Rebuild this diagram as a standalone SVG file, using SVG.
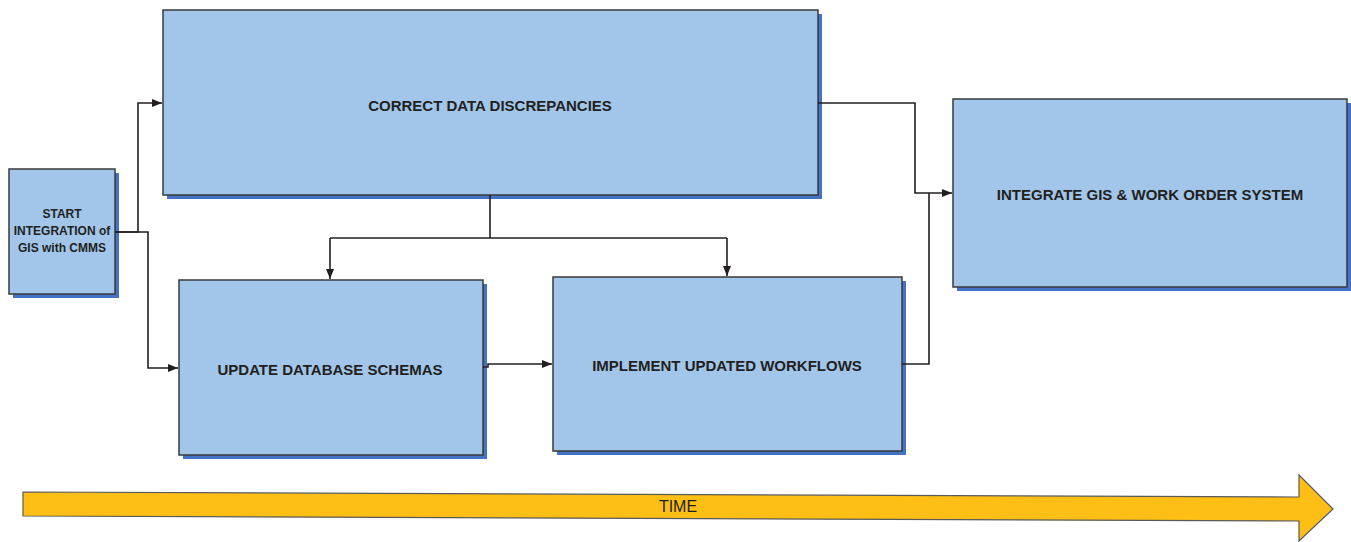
<svg xmlns="http://www.w3.org/2000/svg" width="1351" height="542" viewBox="0 0 1351 542">
<defs>
<style>
.sh{fill:#4472C4}
.bx{fill:#A1C6E9;stroke:#3A3A3A;stroke-width:1.5}
.t{font-family:"Liberation Sans",Arial,sans-serif;font-weight:bold;fill:#231F20;text-anchor:middle;dominant-baseline:central}
.c{fill:none;stroke:#231F20;stroke-width:1.6}
</style>
<marker id="ah" markerWidth="10" markerHeight="8" refX="10" refY="4" orient="auto" markerUnits="userSpaceOnUse">
<path d="M0,0 L10,4 L0,8 Z" fill="#231F20"/>
</marker>
</defs>
<rect width="1351" height="542" fill="#FFFFFF"/>
<g id="start">
<rect class="sh" x="13" y="173" width="106" height="125"/>
<rect class="bx" x="9" y="169" width="106" height="125"/>
<text class="t" x="62" font-size="12"><tspan x="62" y="214">START</tspan><tspan x="62" y="231">INTEGRATION of</tspan><tspan x="62" y="248">GIS with CMMS</tspan></text>
</g>
<g id="correct">
<rect class="sh" x="167" y="14" width="655" height="185"/>
<rect class="bx" x="163" y="10" width="655" height="185"/>
<text class="t" x="490" y="105" font-size="15">CORRECT DATA DISCREPANCIES</text>
</g>
<g id="integrate">
<rect class="sh" x="957" y="103" width="394" height="188"/>
<rect class="bx" x="953" y="99" width="394" height="188"/>
<text class="t" x="1150" y="194" font-size="15">INTEGRATE GIS &amp; WORK ORDER SYSTEM</text>
</g>
<g id="updatedb">
<rect class="sh" x="183" y="284" width="304" height="175"/>
<rect class="bx" x="179" y="280" width="304" height="175"/>
<text class="t" x="330" y="369" font-size="15">UPDATE DATABASE SCHEMAS</text>
</g>
<g id="implement">
<rect class="sh" x="557" y="281" width="349" height="174"/>
<rect class="bx" x="553" y="277" width="349" height="174"/>
<text class="t" x="727" y="365" font-size="15">IMPLEMENT UPDATED WORKFLOWS</text>
</g>
<g id="connectors">
<path class="c" d="M115,232 H138 V103 H162" marker-end="url(#ah)"/>
<path class="c" d="M115,232 H148 V368 H178" marker-end="url(#ah)"/>
<path class="c" d="M818,103 H915 V193 H952" marker-end="url(#ah)"/>
<path class="c" d="M902,364 H929 V193"/>
<path class="c" d="M490,195 V238"/>
<path class="c" d="M330,238 H727"/>
<path class="c" d="M330,238 V279" marker-end="url(#ah)"/>
<path class="c" d="M727,238 V276" marker-end="url(#ah)"/>
<path class="c" d="M483,367 H488 V364 H552" marker-end="url(#ah)"/>
</g>
<g id="time">
<polygon points="23,492 1299,497 1299,475 1333,509 1299,541 1299,521 23,516" fill="#FDBF16" stroke="#5A5A5A" stroke-width="1.2"/>
<text class="t" x="678" y="506" font-size="16" style="font-weight:normal">TIME</text>
</g>
</svg>
